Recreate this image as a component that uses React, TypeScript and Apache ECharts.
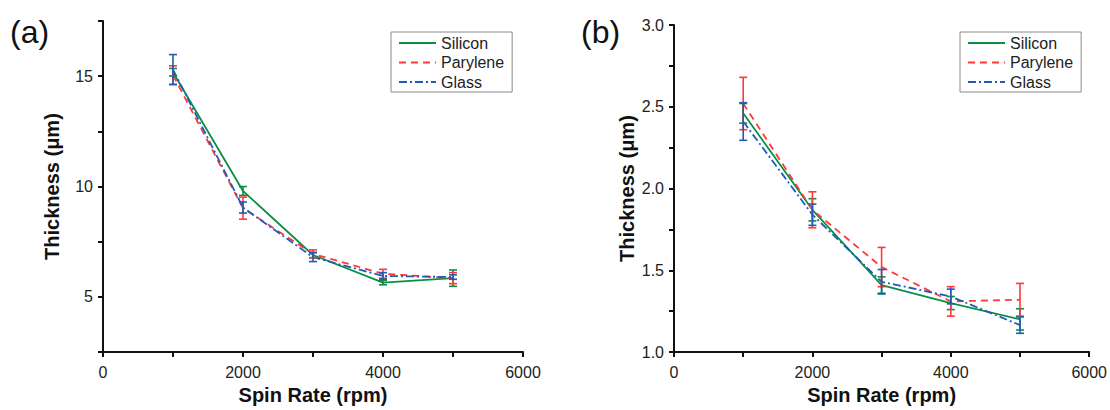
import React, { useEffect, useRef } from "react";
import * as echarts from "echarts";

const spinRates = [1000, 2000, 3000, 4000, 5000];

// Panel (a)
const siliconA = [15.18, 9.8, 6.9, 5.65, 5.85];
const siliconAErr = [0.17, 0.2, 0.12, 0.1, 0.37];
const paryleneA = [15.05, 9.02, 6.95, 6.05, 5.85];
const paryleneAErr = [0.42, 0.5, 0.18, 0.2, 0.25];
const glassA = [15.3, 9.05, 6.8, 5.95, 5.9];
const glassAErr = [0.68, 0.25, 0.2, 0.15, 0.1];

// Panel (b)
const siliconB = [2.46, 1.87, 1.41, 1.3, 1.2];
const siliconBErr = [0.06, 0.068, 0.05, 0.04, 0.065];
const paryleneB = [2.52, 1.87, 1.52, 1.31, 1.32];
const paryleneBErr = [0.16, 0.11, 0.12, 0.09, 0.1];
const glassB = [2.41, 1.84, 1.43, 1.34, 1.165];
const glassBErr = [0.115, 0.065, 0.075, 0.045, 0.05];

const seriesNames = ["Silicon", "Parylene", "Glass"];
const colors = ["#0b8f45", "#ff3838", "#1f5cb8"];
const dashTypes: any[] = ["solid", [7, 5], [8, 3, 2, 3]];

const FONT = "Liberation Sans, Arial, sans-serif";

function pts(vals: number[]) {
  return vals.map((v, i) => [spinRates[i], v]);
}
function errs(vals: number[], e: number[]) {
  return vals.map((v, i) => [spinRates[i], v - e[i], v + e[i]]);
}

function errRender(color: string) {
  return (params: any, api: any) => {
    const x = api.value(0);
    const p1 = api.coord([x, api.value(1)]);
    const p2 = api.coord([x, api.value(2)]);
    const w = 4;
    const st = { stroke: color, lineWidth: 1.6 };
    return {
      type: "group",
      children: [
        { type: "line", shape: { x1: p1[0], y1: p1[1], x2: p2[0], y2: p2[1] }, style: st },
        { type: "line", shape: { x1: p1[0] - w, y1: p1[1], x2: p1[0] + w, y2: p1[1] }, style: st },
        { type: "line", shape: { x1: p2[0] - w, y1: p2[1], x2: p2[0] + w, y2: p2[1] }, style: st },
      ],
    };
  };
}

function xAxis(gridIndex: number) {
  return {
    type: "value",
    gridIndex,
    min: 0,
    max: 6000,
    interval: 1000,
    name: "Spin Rate (rpm)",
    nameLocation: "middle",
    nameGap: 30,
    nameTextStyle: { fontFamily: FONT, fontSize: 20, fontWeight: "bold", color: "#111" },
    axisLine: { show: true, lineStyle: { color: "#111", width: 2 } },
    axisTick: { show: true, inside: false, length: 5, lineStyle: { color: "#111", width: 2 } },
    axisLabel: {
      fontFamily: FONT,
      fontSize: 16,
      color: "#222",
      margin: 12,
      formatter: (v: number) => (v % 2000 === 0 ? String(v) : ""),
    },
    splitLine: { show: false },
  };
}

function yAxis(gridIndex: number, min: number, max: number, interval: number, labelStep: number, digits: number, gap: number) {
  return {
    type: "value",
    gridIndex,
    min,
    max,
    interval,
    name: "Thickness (μm)",
    nameLocation: "middle",
    nameGap: gap,
    nameTextStyle: { fontFamily: FONT, fontSize: 20, fontWeight: "bold", color: "#111" },
    axisLine: { show: true, lineStyle: { color: "#111", width: 2 } },
    axisTick: { show: true, inside: false, length: 5, lineStyle: { color: "#111", width: 2 } },
    axisLabel: {
      fontFamily: FONT,
      fontSize: 16,
      color: "#222",
      margin: 10,
      showMinLabel: true,
      showMaxLabel: true,
      formatter: (v: number) => {
        const r = v / labelStep;
        return Math.abs(r - Math.round(r)) < 1e-6 ? v.toFixed(digits) : "";
      },
    },
    splitLine: { show: false },
  };
}

const panelA = [siliconA, paryleneA, glassA];
const panelAErr = [siliconAErr, paryleneAErr, glassAErr];
const panelB = [siliconB, paryleneB, glassB];
const panelBErr = [siliconBErr, paryleneBErr, glassBErr];

function lineSeries(idx: number, vals: number[], g: number) {
  return {
    type: "line",
    name: seriesNames[idx],
    xAxisIndex: g,
    yAxisIndex: g,
    data: pts(vals),
    symbol: "none",
    lineStyle: { color: colors[idx], width: 1.8, type: dashTypes[idx] },
    itemStyle: { color: colors[idx] },
    z: 3,
  };
}
function errSeries(idx: number, vals: number[], e: number[], g: number) {
  return {
    type: "custom",
    name: seriesNames[idx] + " error",
    xAxisIndex: g,
    yAxisIndex: g,
    data: errs(vals, e),
    renderItem: errRender(colors[idx]),
    z: 4,
  };
}

function legend(left: number) {
  return {
    data: seriesNames,
    orient: "vertical",
    left,
    top: 32,
    itemWidth: 37,
    itemHeight: 14,
    itemGap: 3.5,
    padding: [3, 8, 2, 7],
    borderColor: "#8a8a8a",
    borderWidth: 1,
    backgroundColor: "#fff",
    selectedMode: false,
    itemStyle: { opacity: 0, borderWidth: 0 },
    textStyle: { fontFamily: FONT, fontSize: 16, color: "#222", lineHeight: 16 },
  };
}

export default function App() {
  const ref = useRef<HTMLDivElement>(null);
  useEffect(() => {
    if (!ref.current) return;
    const chart = echarts.init(ref.current, undefined, { renderer: "svg" });
    const series: any[] = [];
    for (let i = 0; i < 3; i++) series.push(lineSeries(i, panelA[i], 0));
    for (let i = 0; i < 3; i++) series.push(lineSeries(i, panelB[i], 1));
    for (let i = 0; i < 3; i++) series.push(errSeries(i, panelA[i], panelAErr[i], 0));
    for (let i = 0; i < 3; i++) series.push(errSeries(i, panelB[i], panelBErr[i], 1));
    chart.setOption({
      animation: false,
      backgroundColor: "#fff",
      grid: [
        { left: 103, width: 420, top: 21, height: 338 },
        { left: 674, width: 420, top: 25, height: 334 },
      ],
      xAxis: [xAxis(0), xAxis(1)],
      yAxis: [yAxis(0, 2.5, 17.5, 2.5, 5, 0, 41), yAxis(1, 1.0, 3.0, 0.25, 0.5, 1, 37)],
      legend: [legend(391), legend(960)],
      series,
      graphic: [
        { type: "text", left: 10, top: 16, style: { text: "(a)", font: `32px ${FONT}`, fill: "#111" } },
        { type: "text", left: 581, top: 16, style: { text: "(b)", font: `32px ${FONT}`, fill: "#111" } },
      ],
    });
    return () => chart.dispose();
  }, []);
  return <div ref={ref} style={{ position: "fixed", left: 0, top: 0, width: 1110, height: 410 }} />;
}
